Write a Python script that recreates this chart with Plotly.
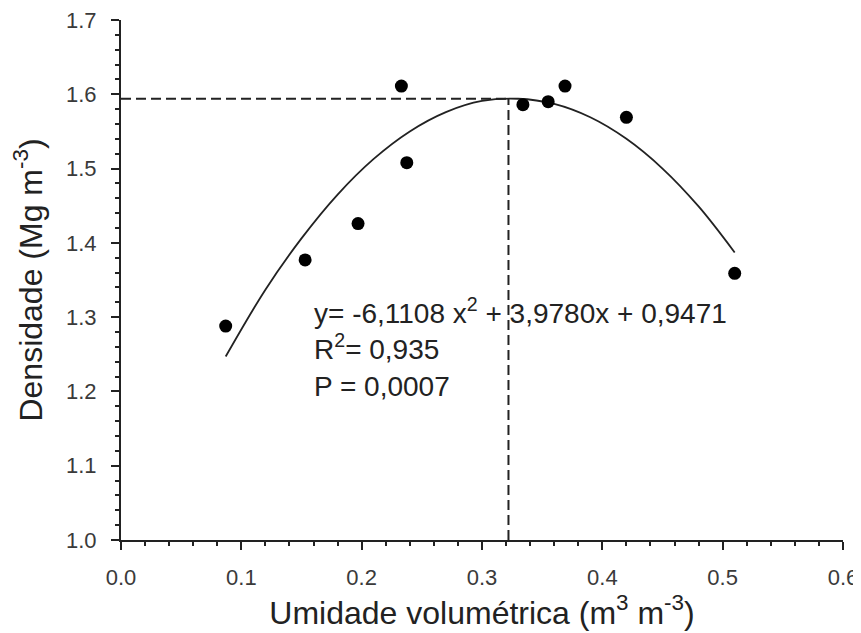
import plotly.graph_objects as go

# Observed points
umidade = [0.087, 0.153, 0.197, 0.233, 0.2375, 0.334, 0.355, 0.369, 0.420, 0.510]
densidade = [1.288, 1.377, 1.426, 1.611, 1.508, 1.586, 1.590, 1.611, 1.569, 1.359]

# Fitted curve
curva_x = [0.087, 0.12, 0.15, 0.18, 0.21, 0.24, 0.27, 0.30, 0.33, 0.36, 0.39, 0.42, 0.45, 0.48, 0.51]
curva_y = [1.247, 1.337, 1.406, 1.465, 1.513, 1.550, 1.576, 1.591, 1.594, 1.587, 1.569, 1.540, 1.500, 1.449, 1.387]

# Optimum reference lines
otimo_x = 0.322
otimo_y = 1.594

x_ticks = [0.0, 0.1, 0.2, 0.3, 0.4, 0.5, 0.6]
y_ticks = [1.0, 1.1, 1.2, 1.3, 1.4, 1.5, 1.6, 1.7]

FONT = "Liberation Sans, Arial, sans-serif"
INK = "#222222"
TICKINK = "#3a3a3a"

fig = go.Figure()
fig.add_trace(go.Scatter(x=[0.0, otimo_x], y=[otimo_y, otimo_y], mode="lines",
                         line=dict(color=INK, width=2, dash="10px,5px"), showlegend=False, hoverinfo="skip"))
fig.add_trace(go.Scatter(x=[otimo_x, otimo_x], y=[1.0, otimo_y], mode="lines",
                         line=dict(color=INK, width=2, dash="10px,5px"), showlegend=False, hoverinfo="skip"))
fig.add_trace(go.Scatter(x=curva_x, y=curva_y, mode="lines", line=dict(color=INK, width=1.8, shape="spline"),
                         showlegend=False))
fig.add_trace(go.Scatter(x=umidade, y=densidade, mode="markers",
                         marker=dict(color="black", size=13), showlegend=False))

fig.add_annotation(x=0.159, y=1.335, xref="x", yref="y", xanchor="left", yanchor="top", align="left",
                   showarrow=False,
                   text="y= -6,1108 x<sup>2</sup> + 3,9780x + 0,9471<br>R<sup>2</sup>= 0,935<br>P = 0,0007",
                   font=dict(family=FONT, size=28, color=INK))

axis_common = dict(showgrid=False, zeroline=False, showline=True, linecolor=INK, linewidth=2,
                   ticks="outside", ticklen=8, tickwidth=2, tickcolor=INK,
                   tickfont=dict(family=FONT, size=22, color=TICKINK),
                   ticklabeloverflow="allow",
                   mirror=False, automargin=False)

fig.update_xaxes(range=[0.0, 0.6], tickvals=x_ticks, ticktext=[f"{v:.1f}" for v in x_ticks],
                 minor=dict(dtick=0.02, tick0=0, ticks="outside", ticklen=4, tickwidth=2, tickcolor=INK),
                 ticklabelstandoff=9,
                 title=dict(text="Umidade volumétrica (m<sup>3</sup> m<sup>-3</sup>)",
                            font=dict(family=FONT, size=32, color=INK), standoff=5),
                 **axis_common)
fig.update_yaxes(range=[1.0, 1.7], tickvals=y_ticks, ticktext=[f"{v:.1f}" for v in y_ticks],
                 minor=dict(dtick=0.02, tick0=1.0, ticks="outside", ticklen=4, tickwidth=2, tickcolor=INK),
                 ticklabelstandoff=10,
                 title=dict(text="Densidade (Mg m<sup>-3</sup>)",
                            font=dict(family=FONT, size=32, color=INK), standoff=14),
                 **axis_common)

# The page adds an 8px body margin, so the figure is sized to fit the 861x633 window
fig.update_layout(width=853, height=625, margin=dict(l=113, r=18, t=12, b=93),
                  paper_bgcolor="white", plot_bgcolor="white")

fig.write_html("out.html")
